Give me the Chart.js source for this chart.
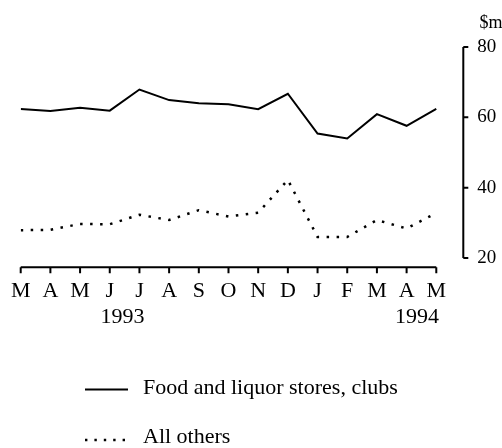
<!DOCTYPE html>
<html><head><meta charset="utf-8">
<script src="https://cdn.jsdelivr.net/npm/chart.js@4/dist/chart.umd.min.js"></script>
<style>html,body{margin:0;padding:0;background:#fff;} canvas{display:block}</style>
</head><body>
<canvas id="c" width="502" height="448"></canvas>
<script>
const months = ['M','A','M','J','J','A','S','O','N','D','J','F','M','A','M'];
const foodLiquorClubs = [62.4, 61.8, 62.7, 61.9, 67.9, 64.9, 64.0, 63.7, 62.3, 66.7, 55.4, 54.0, 60.9, 57.6, 62.4];
const allOthers = [27.9, 28.0, 29.7, 29.6, 32.3, 30.8, 33.6, 31.8, 32.9, 42.2, 26.0, 26.0, 30.8, 28.4, 32.8];
const yTicks = [20, 40, 60, 80];
const years = ['1993', '1994'];
const yearAt = [3.43, 13.35];
const seriesNames = ['Food and liquor stores, clubs', 'All others'];
const unitLabel = '$m';

const SERIF = '"Liberation Serif", "DejaVu Serif", serif';

const decor = {
  id: 'decor',
  beforeDraw(chart) {
    const c = chart.ctx;
    c.save(); c.fillStyle = '#fff'; c.fillRect(0, 0, chart.width, chart.height); c.restore();
  },
  afterDraw(chart) {
    const c = chart.ctx, xs = chart.scales.x, ys = chart.scales.y, ca = chart.chartArea;
    c.save();
    c.strokeStyle = '#000'; c.fillStyle = '#000';
    // x axis line with downward ticks
    c.lineWidth = 2;
    const yb = ca.bottom;
    c.beginPath();
    c.moveTo(xs.getPixelForValue(0), yb);
    c.lineTo(xs.getPixelForValue(months.length - 1), yb);
    months.forEach((m, i) => { const px = xs.getPixelForValue(i); c.moveTo(px, yb); c.lineTo(px, yb + 6); });
    c.stroke();
    // y axis line with rightward ticks
    const xa = ca.right;
    c.beginPath();
    c.moveTo(xa, ys.getPixelForValue(yTicks[yTicks.length - 1]));
    c.lineTo(xa, ys.getPixelForValue(yTicks[0]));
    yTicks.forEach(v => { const py = ys.getPixelForValue(v); c.moveTo(xa, py); c.lineTo(xa + 5, py); });
    c.stroke();
    // years
    c.font = '22px ' + SERIF; c.textAlign = 'center'; c.textBaseline = 'middle';
    years.forEach((y, i) => c.fillText(y, xs.getPixelForValue(yearAt[i]), 317));
    // unit
    c.font = '18px ' + SERIF; c.textAlign = 'left';
    c.fillText(unitLabel, 479.5, 23);
    // legend
    c.font = '22px ' + SERIF; c.textAlign = 'left'; c.textBaseline = 'middle';
    c.lineWidth = 1.8;
    c.beginPath(); c.moveTo(85, 389.5); c.lineTo(128, 389.5); c.stroke();
    c.fillText(seriesNames[0], 143, 388);
    c.lineWidth = 2.4; c.setLineDash([2.4, 7]);
    c.beginPath(); c.moveTo(85, 440); c.lineTo(128, 440); c.stroke();
    c.setLineDash([]);
    c.fillText(seriesNames[1], 143, 437.5);
    c.restore();
  }
};

new Chart(document.getElementById('c').getContext('2d'), {
  type: 'line',
  data: {
    datasets: [
      { label: seriesNames[0], data: foodLiquorClubs.map((v, i) => ({ x: i, y: v })),
        borderColor: '#000', borderWidth: 2, pointRadius: 0, tension: 0, fill: false },
      { label: seriesNames[1], data: allOthers.map((v, i) => ({ x: i, y: v })),
        borderColor: '#000', borderWidth: 2.5, borderDash: [2.5, 7.5], pointRadius: 0, tension: 0, fill: false }
    ]
  },
  options: {
    responsive: false, animation: false, events: [],
    layout: { padding: { left: 20.7, top: 47, right: 0, bottom: 0 } },
    plugins: { legend: { display: false }, tooltip: { enabled: false } },
    scales: {
      x: {
        type: 'linear', min: 0, max: 14.91,
        grid: { display: false, drawTicks: false }, border: { display: false },
        afterBuildTicks: s => { s.ticks = months.map((m, i) => ({ value: i })); },
        afterFit: s => { s.height = 180.7; },
        ticks: { autoSkip: false, maxRotation: 0, padding: 10.5, color: '#000',
          font: { family: SERIF, size: 22 }, callback: v => months[v] }
      },
      y: {
        position: 'right', min: 17.36, max: 80,
        grid: { display: false, drawTicks: false }, border: { display: false },
        afterBuildTicks: s => { s.ticks = yTicks.map(v => ({ value: v })); },
        afterFit: s => { s.width = 38.7; },
        ticks: { padding: 14, color: '#000', font: { family: SERIF, size: 19 } }
      }
    }
  },
  plugins: [decor]
});
</script>
</body></html>
